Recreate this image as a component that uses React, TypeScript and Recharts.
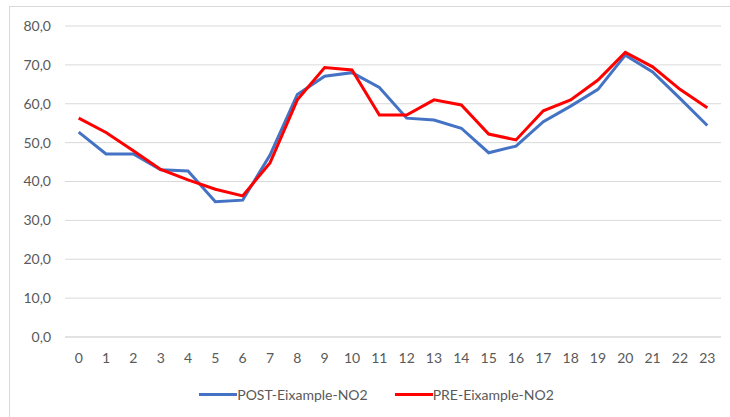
import React from 'react';
import { LineChart, Line, XAxis, YAxis, CartesianGrid, Legend } from 'recharts';

const hours = ['0', '1', '2', '3', '4', '5', '6', '7', '8', '9', '10', '11', '12', '13', '14', '15', '16', '17', '18', '19', '20', '21', '22', '23'];
const postValues = [52.7, 47.1, 47.1, 43.0, 42.7, 34.8, 35.2, 46.8, 62.4, 67.1, 68.0, 64.2, 56.3, 55.8, 53.7, 47.4, 49.1, 55.4, 59.4, 63.7, 72.5, 68.2, 61.4, 54.4];
const preValues = [56.3, 52.6, 47.9, 43.1, 40.4, 38.0, 36.3, 44.8, 61.0, 69.3, 68.7, 57.1, 57.1, 61.0, 59.7, 52.2, 50.7, 58.2, 61.0, 66.1, 73.2, 69.5, 63.7, 59.0];
const yTicks = [0, 10, 20, 30, 40, 50, 60, 70, 80];

const POST_NAME = 'POST-Eixample-NO2';
const PRE_NAME = 'PRE-Eixample-NO2';

const data = hours.map((h, i) => ({ hour: h, post: postValues[i], pre: preValues[i] }));

const FONT = 'Lato, "Open Sans", sans-serif';
const TEXT = '#595959';

const LegendBox = () => {
  const items = [
    { name: POST_NAME, color: '#4472C4' },
    { name: PRE_NAME, color: '#FF0000' },
  ];
  return (
    <div style={{ display: 'flex', justifyContent: 'center', alignItems: 'center', height: 24, paddingLeft: 22, fontFamily: FONT, fontSize: 14, color: TEXT }}>
      {items.map((it, i) => (
        <div key={it.name} style={{ display: 'flex', alignItems: 'center', marginLeft: i ? 27 : 0 }}>
          <span style={{ display: 'inline-block', width: 38, height: 3, background: it.color }} />
          <span>{it.name}</span>
        </div>
      ))}
    </div>
  );
};

export default function App() {
  return (
    <div style={{ position: 'fixed', left: 0, top: 0, width: 730, height: 417, overflow: 'hidden', background: '#fff' }}>
      <div style={{ position: 'absolute', left: 9, top: 6, width: 740, height: 430, border: '1px solid #d9d9d9' }}>
        <LineChart width={720} height={410} data={data} margin={{ top: 19, right: 9, left: 0, bottom: 11 }}>
          <CartesianGrid vertical={false} stroke="#d9d9d9" strokeWidth={1} />
          <XAxis
            dataKey="hour"
            height={45}
            interval={0}
            tickLine={false}
            tickSize={6}
            tickMargin={10}
            axisLine={{ stroke: '#d9d9d9' }}
            padding={{ left: 13.7, right: 13.7 }}
            tick={{ fill: TEXT, fontSize: 14, fontFamily: FONT }}
          />
          <YAxis
            width={55}
            domain={[0, 80]}
            ticks={yTicks}
            interval={0}
            axisLine={false}
            tickLine={false}
            tickSize={6}
            tickMargin={8}
            tickFormatter={(v: number) => v.toFixed(1).replace('.', ',')}
            tick={{ fill: TEXT, fontSize: 14, fontFamily: FONT }}
          />
          <Legend verticalAlign="bottom" height={24} content={<LegendBox />} />
          <Line type="linear" dataKey="post" name={POST_NAME} stroke="#4472C4" strokeWidth={3} dot={false} isAnimationActive={false} />
          <Line type="linear" dataKey="pre" name={PRE_NAME} stroke="#FF0000" strokeWidth={3} dot={false} isAnimationActive={false} />
        </LineChart>
      </div>
    </div>
  );
}
